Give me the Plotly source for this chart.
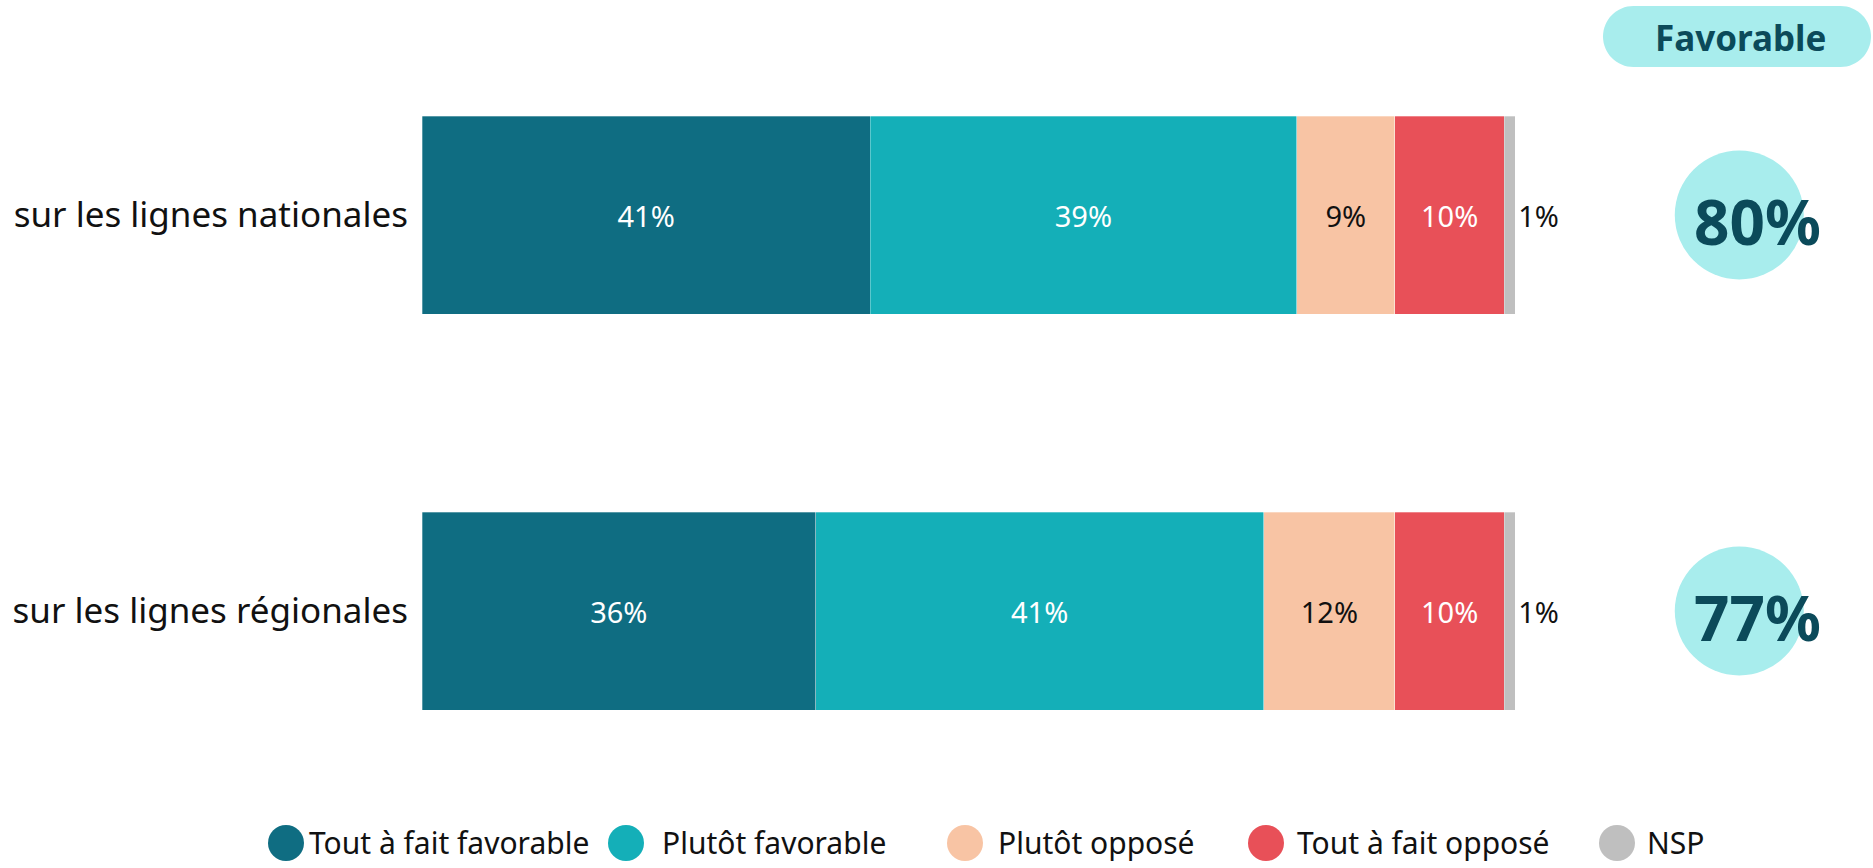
import plotly.graph_objects as go

# ---- data ----
categories = ["sur les lignes nationales", "sur les lignes régionales"]
series_names = ["Tout à fait favorable", "Plutôt favorable", "Plutôt opposé", "Tout à fait opposé", "NSP"]
tout_favorable = [41, 36]
plutot_favorable = [39, 41]
plutot_oppose = [9, 12]
tout_oppose = [10, 10]
nsp = [1, 1]
favorable_total = [80, 77]
favorable_header = "Favorable"

# ---- style ----
colors = ["#0F6D82", "#14AFB8", "#F8C4A4", "#E85058", "#BFBFBF"]
text_colors = ["white", "white", "#111111", "white", "#111111"]
pill_color = "#A8EDED"
dark_text = "#0B4A5A"
FONT = "Noto Sans"

W, H = 1873, 868
L, R, T, B = 422, 8, 17, 59
PW, PH = W - L - R, H - T - B
XMAX = 132.0


def px_x(px):
    return (px - L) / PW


def px_y(py):
    return (H - B - py) / PH


series_vals = [tout_favorable, plutot_favorable, plutot_oppose, tout_oppose, nsp]

fig = go.Figure()
for i, (name, vals) in enumerate(zip(series_names, series_vals)):
    is_last = i == len(series_names) - 1
    fig.add_trace(go.Bar(
        name=name, y=categories, x=vals, orientation="h",
        marker=dict(color=colors[i], line=dict(color="rgba(255,255,255,0.6)", width=0.5)),
        text=[f"{v}%" for v in vals], texttemplate="%{text}",
        textposition="outside" if is_last else "inside",
        insidetextanchor="middle", textangle=0, constraintext="none",
        textfont=dict(family=FONT, size=29, color=text_colors[i]),
        cliponaxis=False, showlegend=False, hoverinfo="skip",
    ))

# favorable circles
circle_x = 120.5
fig.add_trace(go.Scatter(
    x=[circle_x] * len(categories), y=categories, mode="markers",
    marker=dict(size=129, color=pill_color, line=dict(width=0)),
    showlegend=False, hoverinfo="skip", cliponaxis=False,
))
for cat, val in zip(categories, favorable_total):
    fig.add_annotation(x=circle_x, y=cat, xref="x", yref="y", text=f"<b>{val}%</b>",
                       showarrow=False, xshift=18, yshift=-6,
                       xanchor="center", yanchor="middle",
                       font=dict(family=FONT, size=62, color=dark_text))

# pill header
x0, x1, y0, y1 = 1603, 1871, 6, 67
r = (y1 - y0) / 2
k = 0.552
path = (f"M {px_x(x0 + r)},{px_y(y0)} L {px_x(x1 - r)},{px_y(y0)} "
        f"C {px_x(x1 - r + r * k)},{px_y(y0)} {px_x(x1)},{px_y(y0 + r - r * k)} {px_x(x1)},{px_y(y0 + r)} "
        f"C {px_x(x1)},{px_y(y0 + r + r * k)} {px_x(x1 - r + r * k)},{px_y(y1)} {px_x(x1 - r)},{px_y(y1)} "
        f"L {px_x(x0 + r)},{px_y(y1)} "
        f"C {px_x(x0 + r - r * k)},{px_y(y1)} {px_x(x0)},{px_y(y0 + r + r * k)} {px_x(x0)},{px_y(y0 + r)} "
        f"C {px_x(x0)},{px_y(y0 + r - r * k)} {px_x(x0 + r - r * k)},{px_y(y0)} {px_x(x0 + r)},{px_y(y0)} Z")
fig.add_shape(type="path", path=path, xref="paper", yref="paper",
              fillcolor=pill_color, line=dict(width=0), layer="below")
fig.add_annotation(x=px_x(1740), y=px_y(37), xref="paper", yref="paper",
                   text=f"<b>{favorable_header}</b>", showarrow=False,
                   xanchor="center", yanchor="middle",
                   font=dict(family=FONT, size=35, color=dark_text))

# manual legend
legend_cx = [286, 626, 965, 1266, 1617]
legend_tx = [307, 660, 996, 1295, 1645]
legend_cy = 843
rad = 18
for cx, tx, name, col in zip(legend_cx, legend_tx, series_names, colors):
    fig.add_shape(type="circle", xref="paper", yref="paper",
                  x0=px_x(cx - rad), x1=px_x(cx + rad), y0=px_y(legend_cy + rad), y1=px_y(legend_cy - rad),
                  fillcolor=col, line=dict(width=0))
    fig.add_annotation(x=px_x(tx), y=px_y(legend_cy), xref="paper", yref="paper",
                       text=name, showarrow=False, xanchor="left", yanchor="middle",
                       font=dict(family=FONT, size=30, color="#111111"))

fig.update_layout(
    width=W, height=H, barmode="stack", bargap=0.5,
    margin=dict(l=L, r=R, t=T, b=B, pad=0),
    plot_bgcolor="white", paper_bgcolor="white",
    xaxis=dict(range=[0, XMAX], visible=False, fixedrange=True),
    yaxis=dict(autorange="reversed", showgrid=False, zeroline=False, showline=False,
               ticks="", ticklabelstandoff=13, fixedrange=True,
               tickfont=dict(family=FONT, size=35, color="#111111")),
    font=dict(family=FONT),
)

fig.write_html("out.html", config={"displayModeBar": False},
               post_script="document.body.style.margin='0';document.body.style.padding='0';")
